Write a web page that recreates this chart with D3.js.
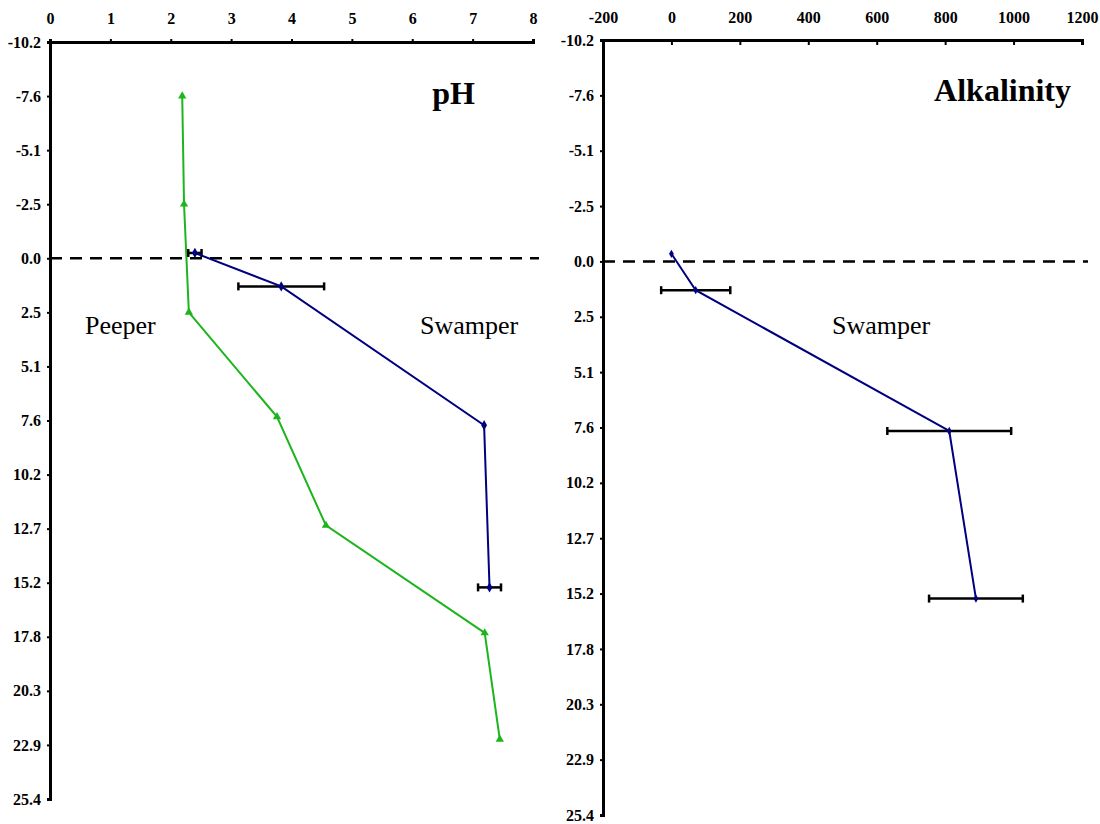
<!DOCTYPE html>
<html>
<head>
<meta charset="utf-8">
<script src="https://cdn.jsdelivr.net/npm/d3@7"></script>
<style>
  body { margin: 0; background: #fff; }
  text { font-family: "Liberation Serif", "Times New Roman", serif; }
</style>
</head>
<body>
<div id="chart"></div>
<script>
// depth ticks (cm, every inch)
var depthTicks = [-10.16, -7.62, -5.08, -2.54, 0, 2.54, 5.08, 7.62, 10.16, 12.7, 15.24, 17.78, 20.32, 22.86, 25.4];
var phTicks = [0, 1, 2, 3, 4, 5, 6, 7, 8];
var alkTicks = [-200, 0, 200, 400, 600, 800, 1000, 1200];

// Peeper pH profile
var peeperDepth = [-7.62, -2.54, 2.54, 7.45, 12.55, 17.6, 22.6];
var peeperPH = [2.19, 2.22, 2.30, 3.76, 4.57, 7.20, 7.45];

// Swamper pH profile
var swamperDepth = [-0.25, 1.32, 7.84, 15.46];
var swamperPH = [2.40, 3.83, 7.19, 7.28];
var swamperPHErr = [0.11, 0.71, 0, 0.19];

// Swamper alkalinity profile
var alkDepth = [-0.35, 1.32, 7.78, 15.47];
var alkValue = [0, 71, 812, 890];
var alkErr = [0, 101, 181, 137];

var svgWidth = 1100;
var svgHeight = 824;

var green = "#1db51d";
var navy = "#000080";

var svg = d3.select("#chart")
  .append("svg")
  .attr("width", svgWidth)
  .attr("height", svgHeight);

function zip(d, v, e) {
  return d.map(function(dd, i) {
    return { depth: dd, value: v[i], err: e ? e[i] : 0 };
  });
}

// plain hyphen instead of the unicode minus
function fmt(spec) {
  var f = d3.format(spec);
  return d => f(d).replace("\u2212", "-");
}

function styleAxis(ax) {
  ax.select(".domain").attr("stroke-width", 3);
  ax.selectAll(".tick line").attr("stroke-width", 2);
  ax.selectAll("text").attr("font-size", 16).attr("font-weight", "bold")
    .attr("font-family", "Liberation Serif").attr("fill", "#000");
}

function drawPanel(opts) {
  var x = d3.scaleLinear().domain(opts.xDomain).range(opts.xRange);
  var y = d3.scaleLinear().domain([-10.16, 25.4]).range(opts.yRange);
  var g = svg.append("g");

  // top axis
  var top = g.append("g")
    .attr("transform", `translate(0, ${opts.yRange[0]})`)
    .call(d3.axisTop(x).tickValues(opts.xTicks).tickSize(opts.topTick).tickPadding(opts.topPad).tickFormat(fmt("d")));
  styleAxis(top);

  // left axis
  var left = g.append("g")
    .attr("transform", `translate(${opts.xRange[0]}, 0)`)
    .call(d3.axisLeft(y).tickValues(depthTicks).tickSize(3).tickPadding(6).tickFormat(fmt(".1f")));
  styleAxis(left);

  // dashed zero line
  g.append("line")
    .attr("x1", opts.xRange[0]).attr("x2", opts.xRange[1] + 6)
    .attr("y1", y(0)).attr("y2", y(0))
    .attr("stroke", "#000").attr("stroke-width", 2.5)
    .attr("stroke-dasharray", "12,8");

  var line = d3.line().x(d => x(d.value)).y(d => y(d.depth));

  opts.series.forEach(function(s) {
    // error bars
    var eb = s.data.filter(d => d.err > 0);
    g.selectAll(null).data(eb).enter().append("line")
      .attr("x1", d => x(d.value - d.err)).attr("x2", d => x(d.value + d.err))
      .attr("y1", d => y(d.depth)).attr("y2", d => y(d.depth))
      .attr("stroke", "#000").attr("stroke-width", 2.5);
    [-1, 1].forEach(function(sgn) {
      g.selectAll(null).data(eb).enter().append("line")
        .attr("x1", d => x(d.value + sgn * d.err)).attr("x2", d => x(d.value + sgn * d.err))
        .attr("y1", d => y(d.depth) - 4).attr("y2", d => y(d.depth) + 4)
        .attr("stroke", "#000").attr("stroke-width", 2.5);
    });

    g.append("path").datum(s.data)
      .attr("d", line)
      .attr("fill", "none")
      .attr("stroke", s.color)
      .attr("stroke-width", 2);

    g.selectAll(null).data(s.data).enter().append("path")
      .attr("transform", d => `translate(${x(d.value)}, ${y(d.depth)})`)
      .attr("d", d3.symbol().type(s.symbol).size(s.size))
      .attr("fill", s.color);
  });

  opts.labels.forEach(function(l) {
    g.append("text")
      .attr("x", l.x).attr("y", l.y)
      .attr("text-anchor", l.anchor || "start")
      .attr("font-size", l.size)
      .attr("font-weight", l.bold ? "bold" : "normal")
      .attr("fill", "#000")
      .text(l.text);
  });
}

drawPanel({
  xDomain: [0, 8],
  xRange: [50, 533],
  yRange: [42, 799],
  xTicks: phTicks,
  topTick: 3,
  topPad: 15,
  series: [
    { data: zip(peeperDepth, peeperPH), color: green, symbol: d3.symbolTriangle, size: 30 },
    { data: zip(swamperDepth, swamperPH, swamperPHErr), color: navy, symbol: d3.symbolDiamond, size: 30 }
  ],
  labels: [
    { text: "pH", x: 475, y: 104, size: 32, bold: true, anchor: "end" },
    { text: "Peeper", x: 85, y: 334, size: 26 },
    { text: "Swamper", x: 420, y: 334, size: 26 }
  ]
});

drawPanel({
  xDomain: [-200, 1200],
  xRange: [603, 1082],
  yRange: [40, 815],
  xTicks: alkTicks,
  topTick: -5,
  topPad: 17,
  series: [
    { data: zip(alkDepth, alkValue, alkErr), color: navy, symbol: d3.symbolDiamond, size: 20 }
  ],
  labels: [
    { text: "Alkalinity", x: 1071, y: 101, size: 32, bold: true, anchor: "end" },
    { text: "Swamper", x: 832, y: 334, size: 26 }
  ]
});
</script>
</body>
</html>
